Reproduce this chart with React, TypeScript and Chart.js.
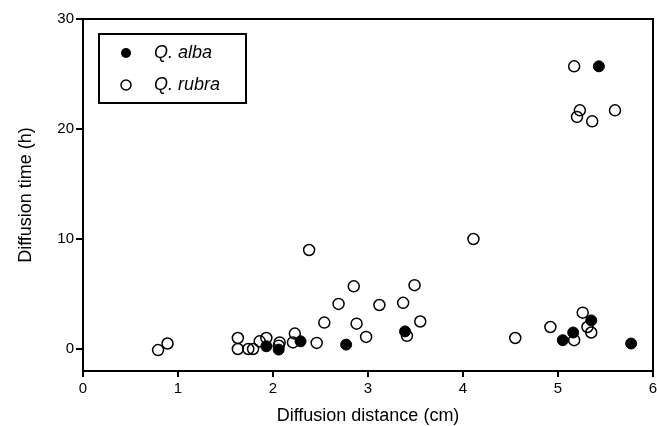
import React, { useEffect, useRef } from "react";
import { Chart, registerables } from "chart.js";

Chart.register(...registerables);

const albaX = [1.93, 2.06, 2.29, 2.77, 3.39, 5.05, 5.16, 5.35, 5.43, 5.77];
const albaY = [0.25, -0.05, 0.7, 0.4, 1.6, 0.8, 1.5, 2.6, 25.7, 0.5];

const rubraX = [0.79, 0.89, 1.63, 1.63, 1.74, 1.79, 1.86, 1.93, 2.07, 2.06, 2.21, 2.23, 2.38, 2.46, 2.54, 2.69, 2.85, 2.88, 2.98, 3.12, 3.37, 3.41, 3.49, 3.55, 4.11, 4.55, 4.92, 5.17, 5.17, 5.2, 5.23, 5.26, 5.31, 5.35, 5.36, 5.6];
const rubraY = [-0.1, 0.5, 1.0, 0.0, 0.0, 0.0, 0.7, 1.0, 0.6, 0.3, 0.6, 1.4, 9.0, 0.55, 2.4, 4.1, 5.7, 2.3, 1.1, 4.0, 4.2, 1.2, 5.8, 2.5, 10.0, 1.0, 2.0, 0.8, 25.7, 21.1, 21.7, 3.3, 2.0, 1.5, 20.7, 21.7];

const xTicks = [0, 1, 2, 3, 4, 5, 6];
const yTicks = [0, 10, 20, 30];
const seriesLabels = ["Q. alba", "Q. rubra"];

const FONT = "'Liberation Sans', Arial, Helvetica, sans-serif";

const framePlugin = {
  id: "frameAndLegend",
  afterDraw(chart: any) {
    const { ctx, chartArea } = chart;
    ctx.save();
    ctx.strokeStyle = "#000";
    ctx.lineWidth = 2;
    ctx.beginPath();
    ctx.moveTo(chartArea.left, chartArea.top);
    ctx.lineTo(chartArea.right, chartArea.top);
    ctx.lineTo(chartArea.right, chartArea.bottom);
    ctx.stroke();

    // legend box
    const bx = chartArea.left + 16;
    const by = chartArea.top + 15;
    const bw = 147;
    const bh = 69;
    ctx.strokeRect(bx, by, bw, bh);
    const items = chart.data.datasets;
    items.forEach((ds: any, i: number) => {
      const cy = by + 19 + i * 32;
      const cx = bx + 27;
      ctx.beginPath();
      ctx.arc(cx, cy, 5, 0, Math.PI * 2);
      if (i === 0) {
        ctx.fillStyle = "#000";
        ctx.fill();
      } else {
        ctx.lineWidth = 1.5;
        ctx.stroke();
      }
      ctx.fillStyle = "#000";
      ctx.font = `italic 18px ${FONT}`;
      ctx.textBaseline = "middle";
      ctx.textAlign = "left";
      ctx.fillText(ds.label, bx + 55, cy);
    });
    ctx.restore();
  },
};

export default function App() {
  const ref = useRef<HTMLCanvasElement>(null);
  useEffect(() => {
    document.body.style.margin = "0";
    const chart = new Chart(ref.current!, {
      type: "scatter",
      data: {
        datasets: [
          {
            label: seriesLabels[0],
            data: albaX.map((x, i) => ({ x, y: albaY[i] })),
            pointRadius: 5.5,
            backgroundColor: "#000",
            borderColor: "#000",
            borderWidth: 1,
          },
          {
            label: seriesLabels[1],
            data: rubraX.map((x, i) => ({ x, y: rubraY[i] })),
            pointRadius: 5.5,
            backgroundColor: "rgba(0,0,0,0)",
            borderColor: "#000",
            borderWidth: 1.5,
          },
        ],
      },
      options: {
        animation: false,
        responsive: false,
        layout: { padding: { top: 19, right: 11, left: 0, bottom: 0 } },
        plugins: { legend: { display: false }, tooltip: { enabled: false } },
        scales: {
          x: {
            type: "linear",
            min: 0,
            max: 6,
            afterBuildTicks: (s: any) => {
              s.ticks = xTicks.map((v) => ({ value: v }));
            },
            afterFit: (s: any) => {
              s.height = 55;
            },
            ticks: { color: "#000", font: { family: FONT, size: 15 }, padding: 3 },
            grid: { display: true, drawOnChartArea: false, drawTicks: true, tickLength: 6, color: "#000", lineWidth: 2 },
            border: { display: true, color: "#000", width: 2 },
            title: { display: true, text: "Diffusion distance (cm)", color: "#000", font: { family: FONT, size: 18 }, padding: { top: 0, bottom: -1 } },
          },
          y: {
            type: "linear",
            min: -2,
            max: 30,
            afterBuildTicks: (s: any) => {
              s.ticks = yTicks.map((v) => ({ value: v }));
            },
            afterFit: (s: any) => {
              s.width = 83;
            },
            ticks: { color: "#000", font: { family: FONT, size: 15 }, padding: 2 },
            grid: { display: true, drawOnChartArea: false, drawTicks: true, tickLength: 7, color: "#000", lineWidth: 2 },
            border: { display: true, color: "#000", width: 2 },
            title: { display: true, text: "Diffusion time (h)", color: "#000", font: { family: FONT, size: 18 }, padding: { top: 15, bottom: 0 } },
          },
        },
      },
      plugins: [framePlugin],
    });
    return () => chart.destroy();
  }, []);
  return (
    <div style={{ width: 657, height: 426, overflow: "hidden" }}>
      <canvas ref={ref} width={664} height={426} style={{ display: "block" }} />
    </div>
  );
}
